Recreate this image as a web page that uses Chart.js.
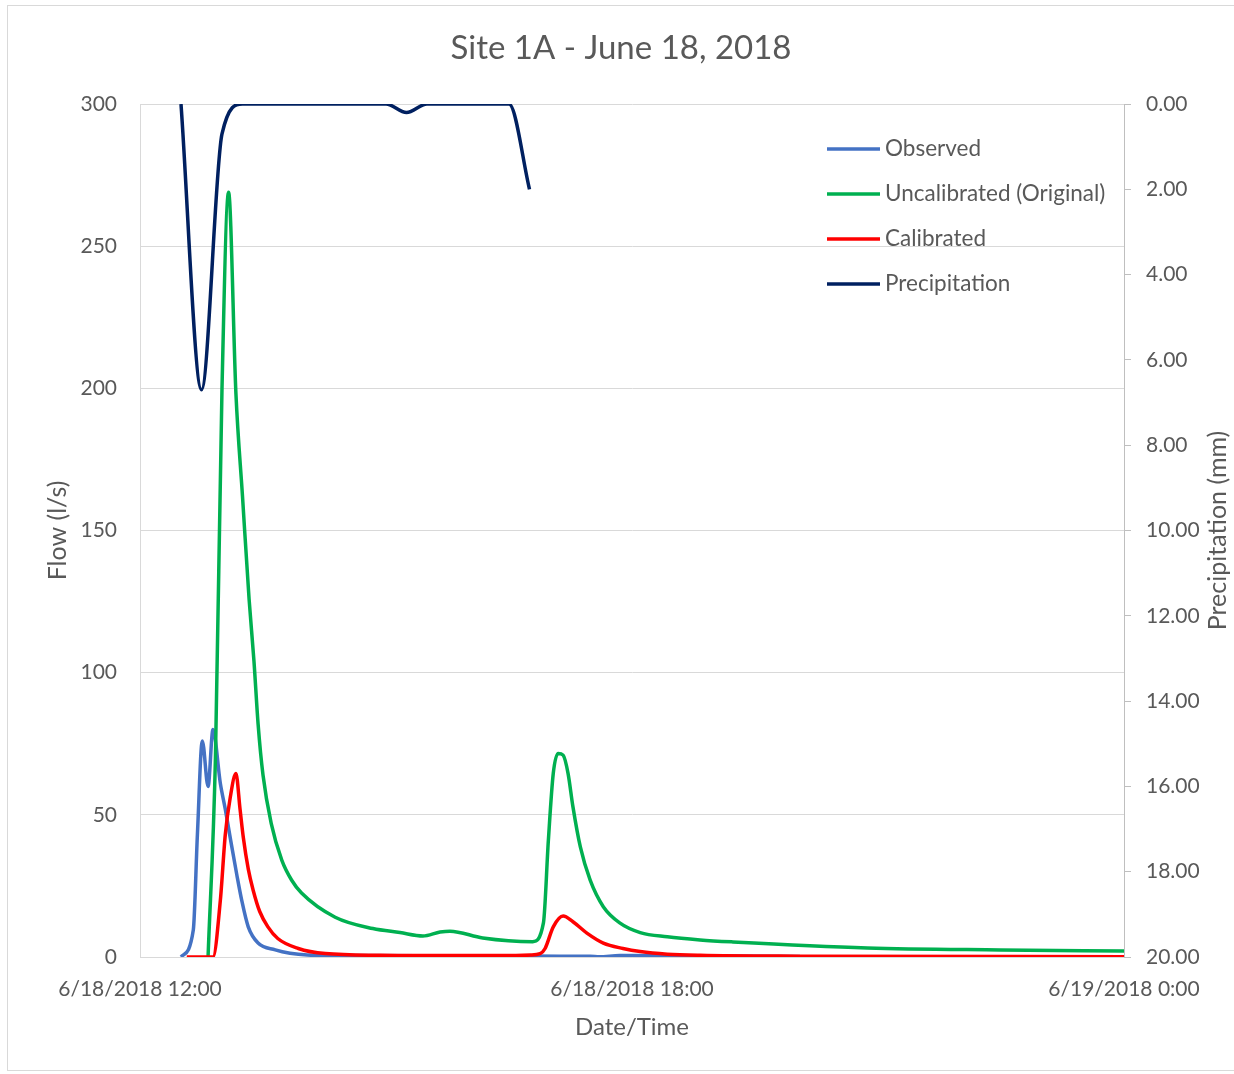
<!DOCTYPE html>
<html>
<head>
<meta charset="utf-8">
<script src="https://cdn.jsdelivr.net/npm/chart.js@4/dist/chart.umd.min.js"></script>
<style>
  body { margin: 0; background: #fff; }
  #frame { position: absolute; left: 7px; top: 5px; width: 1240px; height: 1064px; border: 1px solid #d9d9d9; }
  canvas { display: block; }
</style>
</head>
<body>
<div id="frame"><canvas id="Chart1" width="1226" height="1064"></canvas></div>
<script>
// x values are hours after 6/18/2018 12:00
const tickLabels = ['6/18/2018 12:00', '6/18/2018 18:00', '6/19/2018 0:00'];
const seriesNames = ['Observed', 'Uncalibrated (Original)', 'Calibrated', 'Precipitation'];

const obsHours = [0.50, 0.65, 0.70, 0.76, 0.83, 0.89, 0.98, 1.04, 1.10, 1.18, 1.24, 1.32, 1.44, 1.65, 1.83, 2.04, 2.56, 3.41, 4.39, 5.12, 5.49, 5.60, 5.85, 6.83, 8.05];
const obsFlow  = [0, 9.5, 43, 76, 60, 80, 61, 52, 42, 29, 20, 10.6, 4.9, 2.5, 1.3, 0.7, 0.5, 0.4, 0.4, 0.3, 0.3, 0.1, 0.5, 0.4, 0.2];

const uncalHours = [0.83, 0.92, 1.00, 1.08, 1.17, 1.25, 1.33, 1.39, 1.44, 1.50, 1.60, 1.73, 1.85, 1.97, 2.38, 2.84, 3.17, 3.45, 3.66, 3.78, 4.18, 4.79, 4.92, 4.98, 5.04, 5.10, 5.16, 5.22, 5.28, 5.37, 5.49, 5.65, 5.85, 6.10, 6.43, 6.83, 7.23, 8.87, 10.49, 12.0];
const uncalFlow  = [0, 70, 200, 269, 198, 162, 126, 104, 82, 64, 47, 34, 27, 22.5, 14, 10, 8.6, 7.4, 8.8, 9.1, 6.7, 5.4, 12, 41, 64.6, 71.6, 71, 64.6, 52.8, 38.7, 27, 17.7, 12, 8.6, 7.1, 6.0, 5.3, 3.2, 2.5, 2.1];

const calHours = [0.57, 0.89, 0.98, 1.04, 1.10, 1.17, 1.22, 1.26, 1.32, 1.38, 1.46, 1.56, 1.68, 1.93, 2.26, 2.93, 3.66, 4.39, 4.76, 4.88, 4.94, 5.04, 5.16, 5.28, 5.45, 5.65, 5.89, 6.10, 6.43, 6.83, 8.05, 12.0];
const calFlow  = [0, 0, 20, 43, 56, 64.5, 52, 42, 31, 23.5, 16, 10.6, 6.5, 3, 1.2, 0.6, 0.5, 0.5, 0.7, 1.2, 3, 10.6, 14.4, 12.4, 8.4, 4.9, 3, 1.9, 1.0, 0.6, 0.3, 0.1];

const precipHours = [0.50, 0.75, 1.00, 1.25, 1.50, 1.75, 2.00, 2.25, 2.50, 2.75, 3.00, 3.25, 3.50, 3.75, 4.00, 4.25, 4.50, 4.75];
const precipMm    = [0, 6.7, 0.7, 0, 0, 0, 0, 0, 0, 0, 0, 0.2, 0, 0, 0, 0, 0, 2.0];

const colors = ['#4472C4', '#00B050', '#FF0000', '#002060'];
const textColor = '#595959';
const gridColor = '#d9d9d9';
const fontFamily = 'Lato, sans-serif';

function pts(xs, ys) {
  return xs.map((x, i) => ({ x: x, y: ys[i] }));
}

// legend drawn inside the plot, stacked, like the original
const insideLegend = {
  id: 'insideLegend',
  afterDraw(chart) {
    const ctx = chart.ctx;
    const area = chart.chartArea;
    ctx.save();
    ctx.font = '22.5px ' + fontFamily;
    ctx.textBaseline = 'middle';
    ctx.fillStyle = textColor;
    chart.data.datasets.forEach((ds, i) => {
      const y = area.top + 45 + i * 45;
      ctx.strokeStyle = ds.borderColor;
      ctx.lineWidth = 3.5;
      ctx.beginPath();
      ctx.moveTo(area.right - 297, y);
      ctx.lineTo(area.right - 244, y);
      ctx.stroke();
      ctx.fillText(ds.label, area.right - 239, y);
    });
    // right axis title, reading bottom to top
    ctx.font = '25px ' + fontFamily;
    ctx.textAlign = 'center';
    ctx.translate(1210, (area.top + area.bottom) / 2);
    ctx.rotate(-Math.PI / 2);
    ctx.fillText('Precipitation (mm)', 0, 0);
    ctx.restore();
  }
};

const ctx = document.getElementById('Chart1');

new Chart(ctx, {
  type: 'line',
  data: {
    datasets: [
      { label: seriesNames[0], data: pts(obsHours, obsFlow), borderColor: colors[0], yAxisID: 'y', order: 4 },
      { label: seriesNames[1], data: pts(uncalHours, uncalFlow), borderColor: colors[1], yAxisID: 'y', order: 3 },
      { label: seriesNames[2], data: pts(calHours, calFlow), borderColor: colors[2], yAxisID: 'y', order: 2 },
      { label: seriesNames[3], data: pts(precipHours, precipMm), borderColor: colors[3], yAxisID: 'y1', order: 1 }
    ]
  },
  options: {
    responsive: false,
    animation: false,
    layout: { padding: 0 },
    datasets: {
      line: { borderWidth: 3.5, pointRadius: 0, fill: false, cubicInterpolationMode: 'monotone' }
    },
    plugins: {
      legend: { display: false },
      tooltip: { enabled: false },
      title: {
        display: true,
        text: 'Site 1A - June 18, 2018',
        color: textColor,
        font: { family: fontFamily, size: 33, weight: 'normal' },
        padding: { top: 23, bottom: 35.4 }
      }
    },
    scales: {
      x: {
        type: 'linear',
        min: 0,
        max: 12,
        afterFit: (scale) => { scale.height = 113; },
        grid: { display: false },
        border: { color: gridColor },
        ticks: {
          stepSize: 6,
          maxRotation: 0,
          padding: 12,
          color: textColor,
          font: { family: fontFamily, size: 21 },
          callback: (v) => tickLabels[v / 6]
        },
        title: {
          display: true,
          text: 'Date/Time',
          color: textColor,
          font: { family: fontFamily, size: 24 },
          padding: { top: 0, bottom: 28.6 }
        }
      },
      y: {
        position: 'left',
        min: 0,
        max: 300,
        afterFit: (scale) => { scale.width = 132; },
        grid: { color: gridColor, drawTicks: false },
        border: { color: gridColor },
        ticks: {
          stepSize: 50,
          padding: 23,
          color: textColor,
          font: { family: fontFamily, size: 21 }
        },
        title: {
          display: true,
          text: 'Flow (l/s)',
          color: textColor,
          font: { family: fontFamily, size: 25 },
          padding: { top: 35, bottom: 0 }
        }
      },
      y1: {
        position: 'right',
        min: 0,
        max: 20,
        reverse: true,
        afterFit: (scale) => { scale.width = 110; },
        grid: { drawOnChartArea: false, color: '#bfbfbf', tickLength: 7 },
        border: { color: '#bfbfbf' },
        ticks: {
          stepSize: 2,
          padding: 15,
          color: textColor,
          font: { family: fontFamily, size: 21 },
          callback: (v) => v.toFixed(2)
        }
      }
    }
  },
  plugins: [insideLegend]
});
</script>
</body>
</html>
